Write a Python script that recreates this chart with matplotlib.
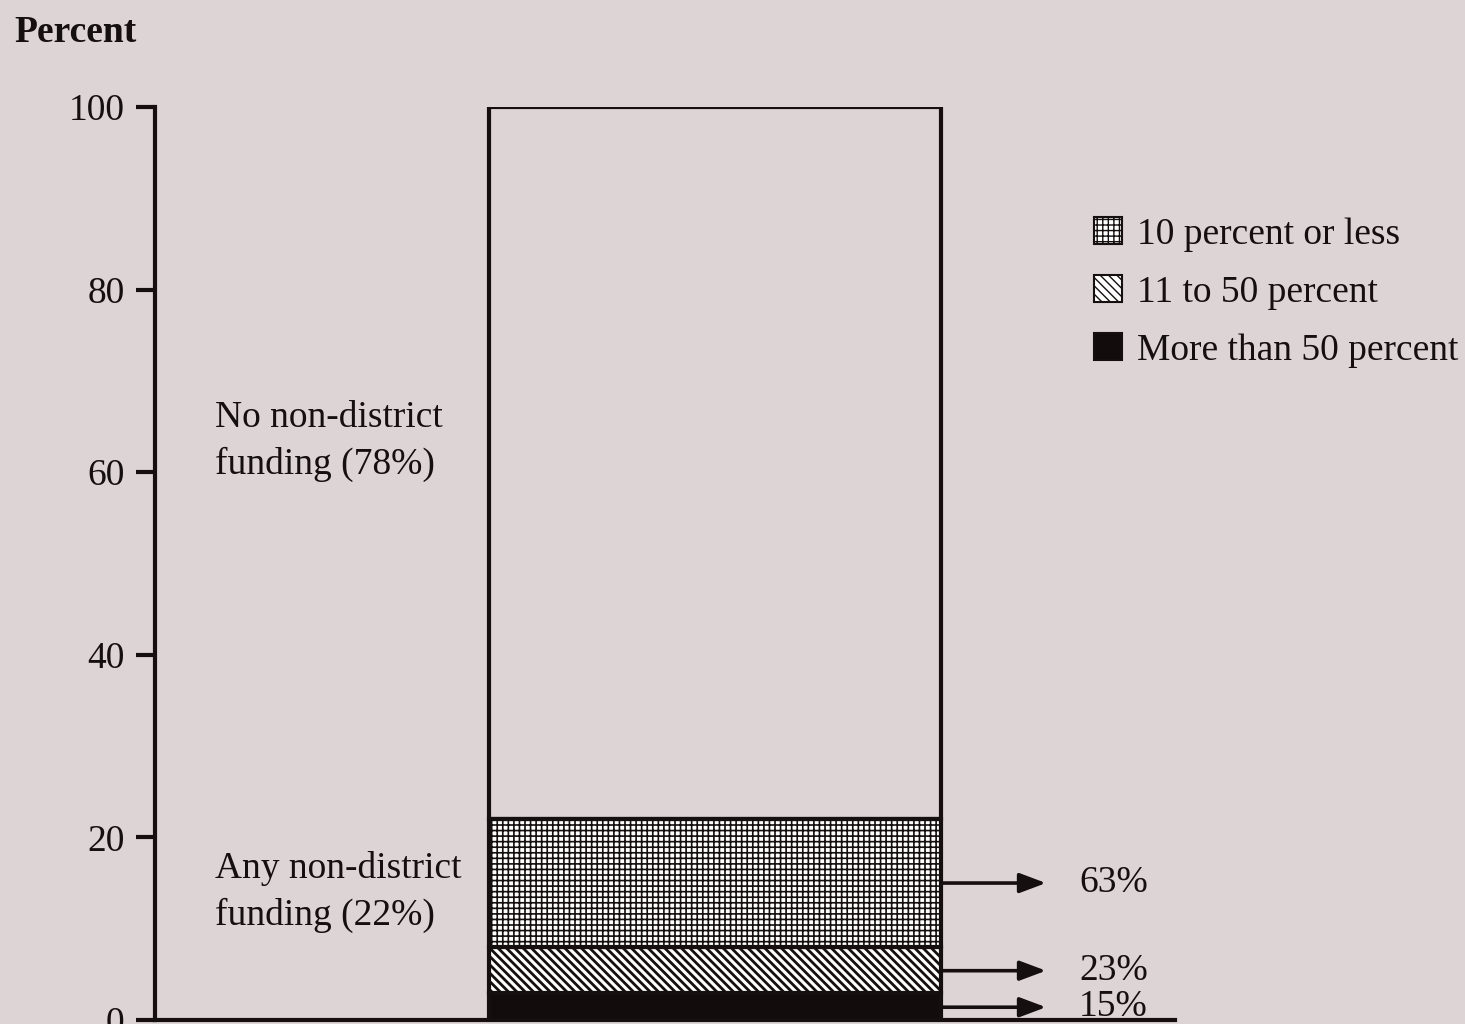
import matplotlib.pyplot as plt

# data
segments = ['More than 50 percent', '11 to 50 percent', '10 percent or less', 'No non-district funding']
seg_values = [3.0, 5.0, 14.0, 78.0]
seg_hatches = [None, '\\\\\\\\', '+++', None]
seg_hatch_lw = [1.0, 2.0, 1.2, 1.0]
seg_colors = ['#120c0c', 'white', 'white', 'none']
shares = ['15%', '23%', '63%']
share_y = [1.4, 5.4, 15.0]
side_labels = ['Any non-district\nfunding (22%)', 'No non-district\nfunding (78%)']
side_label_y = [14.0, 63.4]
y_ticks = [0, 20, 40, 60, 80, 100]

bg = '#ddd5d5'
ink = '#150f0f'

plt.rcParams['font.family'] = ['Liberation Serif', 'DejaVu Serif']
plt.rcParams['hatch.color'] = ink

fig = plt.figure(figsize=(14.65, 10.24), dpi=100, facecolor=bg)
ax = fig.add_axes([155 / 1465, 4 / 1024, 1020 / 1465, 913 / 1024])
ax.set_facecolor(bg)
ax.set_xlim(0, 10.2)
ax.set_ylim(0, 100)

# stacked bar, one column
bar_x, bar_w = 5.6, 4.52
bottom = 0
bars = []
for name, val, h, hlw, c in zip(segments, seg_values, seg_hatches, seg_hatch_lw, seg_colors):
    with plt.rc_context({'hatch.linewidth': hlw}):
        b = ax.bar(bar_x, val, bar_w, bottom=bottom, color=c, hatch=h,
                   edgecolor=ink, linewidth=3, label=name, zorder=2)
    bars.append(b)
    bottom += val

# arrows from the middle of each lower segment
right = bar_x + bar_w / 2
for m, s in zip(share_y, shares):
    ax.annotate('', xy=(right + 1.05, m), xytext=(right, m),
                arrowprops=dict(arrowstyle='-|>,head_length=1.6,head_width=0.6',
                                color=ink, lw=2.6, shrinkA=0, shrinkB=0))
    ax.text(right + 1.38, m, s, fontsize=27, color=ink, va='center', ha='left')

for t, yy in zip(side_labels, side_label_y):
    ax.text(0.6, yy, t, fontsize=27, color=ink, va='center', ha='left', linespacing=1.42)

# legend: grid, diagonal, black
handles = [bars[2], bars[1], bars[0]]
leg = fig.legend(handles, [segments[2], segments[1], segments[0]],
                 loc='upper left', bbox_to_anchor=(1075 / 1465, 1 - 198 / 1024),
                 frameon=False, fontsize=27, handlelength=0.75, handleheight=0.75,
                 handletextpad=0.4, labelspacing=0.62, borderpad=0, labelcolor=ink)
for p in leg.get_patches():
    p.set_linewidth(1.5)

ax.spines['top'].set_visible(False)
ax.spines['right'].set_visible(False)
ax.spines['left'].set_linewidth(3)
ax.spines['bottom'].set_linewidth(3)
ax.spines['left'].set_color(ink)
ax.spines['bottom'].set_color(ink)
ax.set_yticks(y_ticks)
ax.set_yticklabels([str(v) for v in y_ticks])
ax.tick_params(axis='y', length=14, width=3, color=ink, labelsize=27,
               labelcolor=ink, pad=8)
ax.set_xticks([])

fig.text(14 / 1465, 1 - 42 / 1024, 'Percent', fontsize=27, fontweight='bold',
         color=ink, ha='left', va='baseline')

fig.savefig('out.png', dpi=100, facecolor=bg)
